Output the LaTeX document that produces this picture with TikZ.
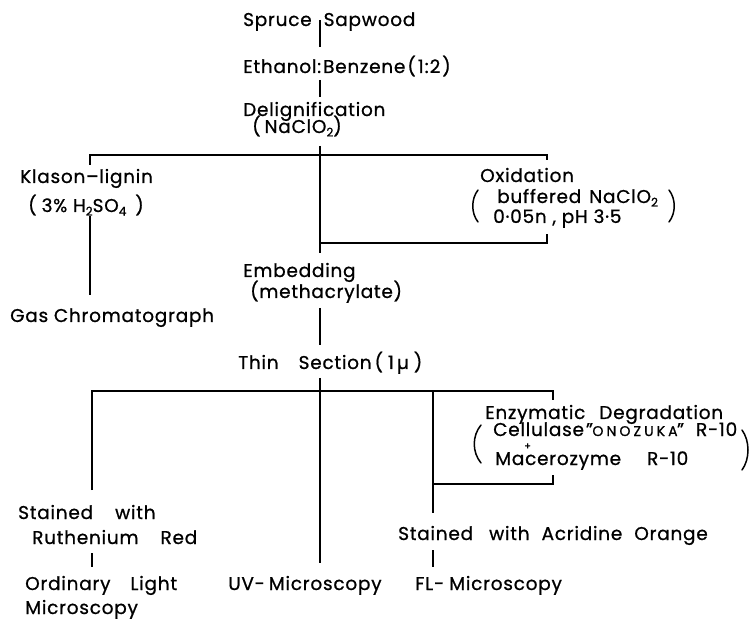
\documentclass[tikz,border=0pt]{standalone}
\usepackage{fontspec}
\setmainfont{Poppins}[LetterSpace=4,FakeBold=0.8]
\newcommand\sbs[1]{\raisebox{-0.35ex}{\fontsize{12}{12}\selectfont #1}}
\begin{document}
\begin{tikzpicture}[x=1pt,y=-1pt,
  lbl/.style={anchor=base west,inner sep=0pt,font=\fontsize{18.5}{20}\selectfont},
  conn/.style={line width=1.7pt,line cap=butt},
  paren/.style={line width=1.5pt,line cap=round}]
\useasboundingbox (0,0) rectangle (753,620);
% texts
\node[lbl] (spruce) at (243,26) {Spruce\hspace{12pt}Sapwood};
\node[lbl] (ethanol) at (243,73) {Ethanol:\hspace{2pt}Benzene\hspace{2pt}(\hspace{2pt}1\hspace{1pt}:\hspace{1pt}2\hspace{2pt})};
\node[lbl] (delig) at (243,116) {Delignification};
\node[lbl] (delig2) at (252,133) {(\hspace{4pt}NaClO\sbs{2})};
\node[lbl] (klason) at (20,183) {Klason–lignin};
\node[lbl] (klason2) at (28,212) {(\hspace{5pt}3\% H\sbs{2}SO\sbs{4}\hspace{9pt})};
\node[lbl] (gas) at (10,322) {Gas Chromatograph};
\node[lbl] (oxid) at (480,182) {Oxidation};
\node[lbl] (oxid2) at (497,203) {buffered\hspace{8pt}NaClO\sbs{2}};
\node[lbl] (oxid3) at (493,223) {0·05n , pH 3·5};
\node[lbl] (embed) at (243,277) {Embedding};
\node[lbl] (embed2) at (250,298) {(methacrylate)};
\node[lbl] (thin) at (238,369) {Thin\hspace{20pt}Section\hspace{3pt}(\hspace{5pt}1\hspace{3pt}µ\hspace{5pt})};
\node[lbl] (enzy) at (485,419) {Enzymatic\hspace{14pt}Degradation};
\node[lbl] (enzy2) at (493,436) {Cellulase\hspace{2pt}"\makebox[84pt][c]{\fontsize{14}{12}\selectfont\addfontfeature{LetterSpace=22}ONOZUKA}"\hspace{12pt}R-10};
\node[lbl,font=\fontsize{10}{10}\selectfont] (plus) at (524,449.5) {+};
\node[lbl] (enzy3) at (495,465) {Macerozyme\hspace{26pt}R-10};
\node[lbl] (stainR) at (18,519) {Stained\hspace{22pt}with};
\node[lbl] (stainR2) at (32,544) {Ruthenium\hspace{22pt}Red};
\node[lbl] (stainA) at (398,540) {Stained\hspace{16pt}with\hspace{12pt}Acridine\hspace{12pt}Orange};
\node[lbl] (ordin) at (25,590) {Ordinary\hspace{20pt}Light};
\node[lbl] (ordin2) at (25,614) {Microscopy};
\node[lbl] (uv) at (228,590) {UV-\hspace{4pt}Microscopy};
\node[lbl] (fl) at (415,590) {FL-\hspace{5pt}Microscopy};
% junction coordinates
\coordinate (a1) at (320,20);  \coordinate (a2) at (320,47);
\coordinate (b1) at (320,80);  \coordinate (b2) at (320,97);
\coordinate (c1) at (320,146); \coordinate (c2) at (320,253);
\coordinate (h1l) at (90,155); \coordinate (h1r) at (547,155);
\coordinate (h1lt) at (90,165); \coordinate (h1rt) at (547,160);
\coordinate (h2l) at (320,243); \coordinate (h2r) at (547,243); \coordinate (h2rt) at (547,234);
\coordinate (k1) at (90,216); \coordinate (k2) at (90,295);
\coordinate (e1) at (320,308); \coordinate (e2) at (320,345);
\coordinate (t1) at (320,378); \coordinate (t2) at (320,391);
\coordinate (h3l) at (92,391); \coordinate (h3r) at (553,391); \coordinate (h3rt) at (553,400);
\coordinate (l2) at (92,490);
\coordinate (m2) at (320,563);
\coordinate (r1) at (433,391); \coordinate (r2) at (433,513);
\coordinate (h4r) at (553,484); \coordinate (h4l) at (433,484); \coordinate (h4rt) at (553,475);
\coordinate (o1) at (92,553); \coordinate (o2) at (92,567);
\coordinate (f1) at (433,550); \coordinate (f2) at (433,567);
% connectors
\draw[conn] (a1) -- (a2);
\draw[conn] (b1) -- (b2);
\draw[conn] (c1) -- (c2);
\draw[conn] (h1lt) -- (h1l) -- (h1r) -- (h1rt);
\draw[conn] (h2l) -- (h2r) -- (h2rt);
\draw[conn] (k1) -- (k2);
\draw[conn] (e1) -- (e2);
\draw[conn] (t1) -- (m2);
\draw[conn] (l2) -- (h3l) -- (h3r) -- (h3rt);
\draw[conn] (r1) -- (r2);
\draw[conn] (h4l) -- (h4r) -- (h4rt);
\draw[conn] (o1) -- (o2);
\draw[conn] (f1) -- (f2);
% parentheses
\draw[paren] (478,190) .. controls (471,199) and (471,213) .. (478,222);
\draw[paren] (669,190) .. controls (676,199) and (676,213) .. (669,222);
\draw[paren] (481,425) .. controls (472,436) and (472,452) .. (481,463);
\draw[paren] (742,430) .. controls (750,441) and (750,459) .. (742,470);
\end{tikzpicture}
\end{document}
